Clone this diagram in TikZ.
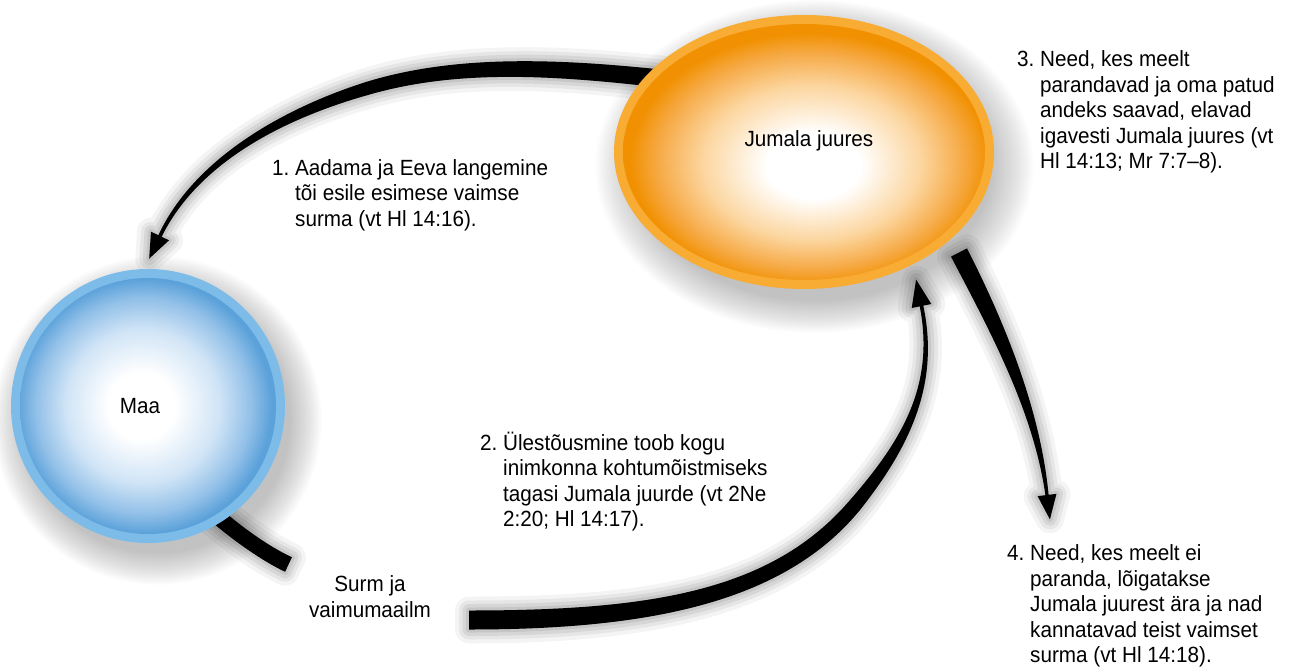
\documentclass[tikz,border=0pt]{standalone}
\usepackage{fontspec}
\setmainfont{Liberation Sans}[FakeStretch=0.94]
\usetikzlibrary{calc,shapes.geometric}
\definecolor{orRing}{RGB}{248,172,52}
\definecolor{orEdge}{RGB}{241,144,0}
\definecolor{orMid}{RGB}{246,170,70}
\definecolor{orLight}{RGB}{252,214,160}
\definecolor{blRing}{RGB}{125,188,232}
\definecolor{blEdge}{RGB}{92,162,218}
\definecolor{blMid}{RGB}{146,192,232}
\definecolor{blLight}{RGB}{208,228,246}
\pgfdeclareradialshading{orglow}{\pgfpoint{1.5bp}{-3bp}}{color(0bp)=(white);color(6.5bp)=(white);color(15bp)=(orLight);color(21bp)=(orMid);color(24.8bp)=(orEdge);color(50bp)=(orEdge)}
\pgfdeclareradialshading{blglow}{\pgfpoint{-1.5bp}{0bp}}{color(0bp)=(white);color(6.5bp)=(white);color(15bp)=(blLight);color(21bp)=(blMid);color(24.8bp)=(blEdge);color(50bp)=(blEdge)}
\pgfdeclareradialshading{shadowglow}{\pgfpoint{0bp}{0bp}}{color(0bp)=(black!25);color(20bp)=(black!24);color(23bp)=(black!11);color(25bp)=(white);color(50bp)=(white)}
\tikzset{
  lbl/.style={font=\fontsize{22}{25.5}\selectfont,align=left,inner sep=0pt,anchor=base west},
  ringnode/.style={inner sep=0pt,outer sep=0pt},
}
% tapered band paths
\newcommand\arrowApath{($(a1s)!9pt!90:(a1c1)$) .. controls ($(a1c1)!8.5pt!-90:(a1s)$) and ($(a1c2)!7.5pt!90:(a1j)$) .. ($(a1j)!6.5pt!-90:(a1c2)$)
 .. controls ($(a1c3)!5pt!-90:(a1j)$) and ($(a1c4)!2.8pt!90:(a1e)$) .. ($(a1e)!1.8pt!-90:(a1c4)$)
 -- ($(a1e)!10pt!-90:(a1c4)$) -- ($(a1e)!-25pt!(a1c4)$) -- ($(a1e)!10pt!90:(a1c4)$)
 -- ($(a1e)!1.8pt!90:(a1c4)$) .. controls ($(a1c4)!2.8pt!-90:(a1e)$) and ($(a1c3)!5pt!90:(a1j)$) .. ($(a1j)!6.5pt!90:(a1c2)$)
 .. controls ($(a1c2)!7.5pt!-90:(a1j)$) and ($(a1c1)!8.5pt!90:(a1s)$) .. ($(a1s)!9pt!-90:(a1c1)$) -- cycle}
\newcommand\arrowBpath{($(a2s)!9.5pt!90:(a2c1)$) .. controls ($(a2c1)!9.5pt!-90:(a2s)$) and ($(a2c2)!8.5pt!90:(a2j)$) .. ($(a2j)!7pt!-90:(a2c2)$)
 .. controls ($(a2c3)!5pt!-90:(a2j)$) and ($(a2c4)!2.5pt!90:(a2e)$) .. ($(a2e)!1.8pt!-90:(a2c4)$)
 -- ($(a2e)!10pt!-90:(a2c4)$) -- ($(a2e)!-27pt!(a2c4)$) -- ($(a2e)!10pt!90:(a2c4)$)
 -- ($(a2e)!1.8pt!90:(a2c4)$) .. controls ($(a2c4)!2.5pt!-90:(a2e)$) and ($(a2c3)!5pt!90:(a2j)$) .. ($(a2j)!7pt!90:(a2c2)$)
 .. controls ($(a2c2)!8.5pt!-90:(a2j)$) and ($(a2c1)!9.5pt!90:(a2s)$) .. ($(a2s)!9.5pt!-90:(a2c1)$) -- cycle}
\newcommand\arrowDpath{($(a4s)!9pt!90:(a4c1)$) .. controls ($(a4c1)!8.5pt!-90:(a4s)$) and ($(a4c2)!3.5pt!90:(a4e)$) .. ($(a4e)!1.6pt!-90:(a4c2)$)
 -- ($(a4e)!9.5pt!-90:(a4c2)$) -- ($(a4e)!-24.5pt!(a4c2)$) -- ($(a4e)!9.5pt!90:(a4c2)$)
 -- ($(a4e)!1.6pt!90:(a4c2)$) .. controls ($(a4c2)!3.5pt!-90:(a4e)$) and ($(a4c1)!8.5pt!90:(a4s)$) .. ($(a4s)!9pt!-90:(a4c1)$) -- cycle}
\newcommand\stubpath{($(sts)!8pt!90:(stc1)$) .. controls ($(stc1)!8pt!-90:(sts)$) and ($(stc2)!8pt!90:(ste)$) .. ($(ste)!8pt!-90:(stc2)$)
 -- ($(ste)!8pt!90:(stc2)$) .. controls ($(stc2)!8pt!-90:(ste)$) and ($(stc1)!8pt!90:(sts)$) .. ($(sts)!8pt!-90:(stc1)$) -- cycle}
\newcommand\bandshadow[1]{\begin{scope}[shift={(4,10)}]
 \foreach \wd/\op in {28/0.045,20/0.055,13/0.065,6/0.075} {\draw[line width=\wd pt,black,opacity=\op,line join=round] #1;}
 \fill[black,opacity=0.1] #1;
\end{scope}}
\begin{document}
\begin{tikzpicture}[x=1pt,y=-1pt]
\useasboundingbox (0,0) rectangle (1290,667);
\fill[white] (0,0) rectangle (1290,667);

% ---- coordinates of the arrows
\coordinate (a1s) at (665,79);
\coordinate (a1c1) at (557,67);
\coordinate (a1c2) at (457,61.5);
\coordinate (a1j) at (367,88.5);
\coordinate (a1c3) at (285.6,112.9);
\coordinate (a1c4) at (196.6,159.5);
\coordinate (a1e) at (160,236);

\coordinate (a2s) at (469,620);
\coordinate (a2c1) at (650,620);
\coordinate (a2c2) at (778,597);
\coordinate (a2j) at (855,505);
\coordinate (a2c3) at (906.2,443.4);
\coordinate (a2c4) at (937.5,384.4);
\coordinate (a2e) at (921.5,306);

\coordinate (a4s) at (959,252.5);
\coordinate (a4c1) at (998,328);
\coordinate (a4c2) at (1037,411);
\coordinate (a4e) at (1047,495);

\coordinate (sts) at (205,505);
\coordinate (stc1) at (226.6,525.7);
\coordinate (stc2) at (261.3,551.8);
\coordinate (ste) at (288.5,564.5);

% ---- soft shadows
\node[ellipse,ringnode,shade,shading=shadowglow,minimum width=440pt,minimum height=334pt] (jumshadow) at (814,166) {};
\node[circle,ringnode,shade,shading=shadowglow,minimum size=330pt] (maashadow) at (157,420) {};
\bandshadow{\arrowApath}
\bandshadow{\arrowBpath}
\bandshadow{\arrowDpath}
\bandshadow{\stubpath}

% ---- arrows
\fill[black] \arrowApath;
\fill[black] \arrowBpath;
\fill[black] \arrowDpath;
\fill[black] \stubpath;

% ---- circles
\node[ellipse,ringnode,fill=orRing,minimum width=380pt,minimum height=274pt] (jum) at (804,152) {};
\node[ellipse,ringnode,shade,shading=orglow,minimum width=362pt,minimum height=256pt] (juminner) at (jum.center) {};
\node[lbl,anchor=base] (jumtxt) at (809,146.7) {Jumala juures};

\node[circle,ringnode,fill=blRing,minimum size=274pt] (maa) at (148,406) {};
\node[circle,ringnode,shade,shading=blglow,minimum size=256pt] (maainner) at (maa.center) {};
\node[lbl,anchor=base] (maatxt) at (140,413) {Maa};

% ---- labels (anchored at the baseline of their last line)
\node[lbl] (t1) at (272,226) {1.~Aadama ja Eeva langemine\\\hphantom{1.~}tõi esile esimese vaimse\\\hphantom{1.~}surma (vt Hl 14:16).};
\node[lbl] (t2) at (480,526.5) {2.~Ülestõusmine toob kogu\\\hphantom{2.~}inimkonna kohtumõistmiseks\\\hphantom{2.~}tagasi Jumala juurde (vt 2Ne\\\hphantom{2.~}2:20; Hl 14:17).};
\node[lbl] (t3) at (1017,168.5) {3.~Need, kes meelt\\\hphantom{3.~}parandavad ja oma patud\\\hphantom{3.~}andeks saavad, elavad\\\hphantom{3.~}igavesti Jumala juures (vt\\\hphantom{3.~}Hl 14:13; Mr 7:7–8).};
\node[lbl] (t4) at (1007,662.5) {4.~Need, kes meelt ei\\\hphantom{4.~}paranda, lõigatakse\\\hphantom{4.~}Jumala juurest ära ja nad\\\hphantom{4.~}kannatavad teist vaimset\\\hphantom{4.~}surma (vt Hl 14:18).};
\node[lbl,align=center,anchor=base] (surm) at (370,617) {Surm ja\\vaimumaailm};
\end{tikzpicture}
\end{document}
